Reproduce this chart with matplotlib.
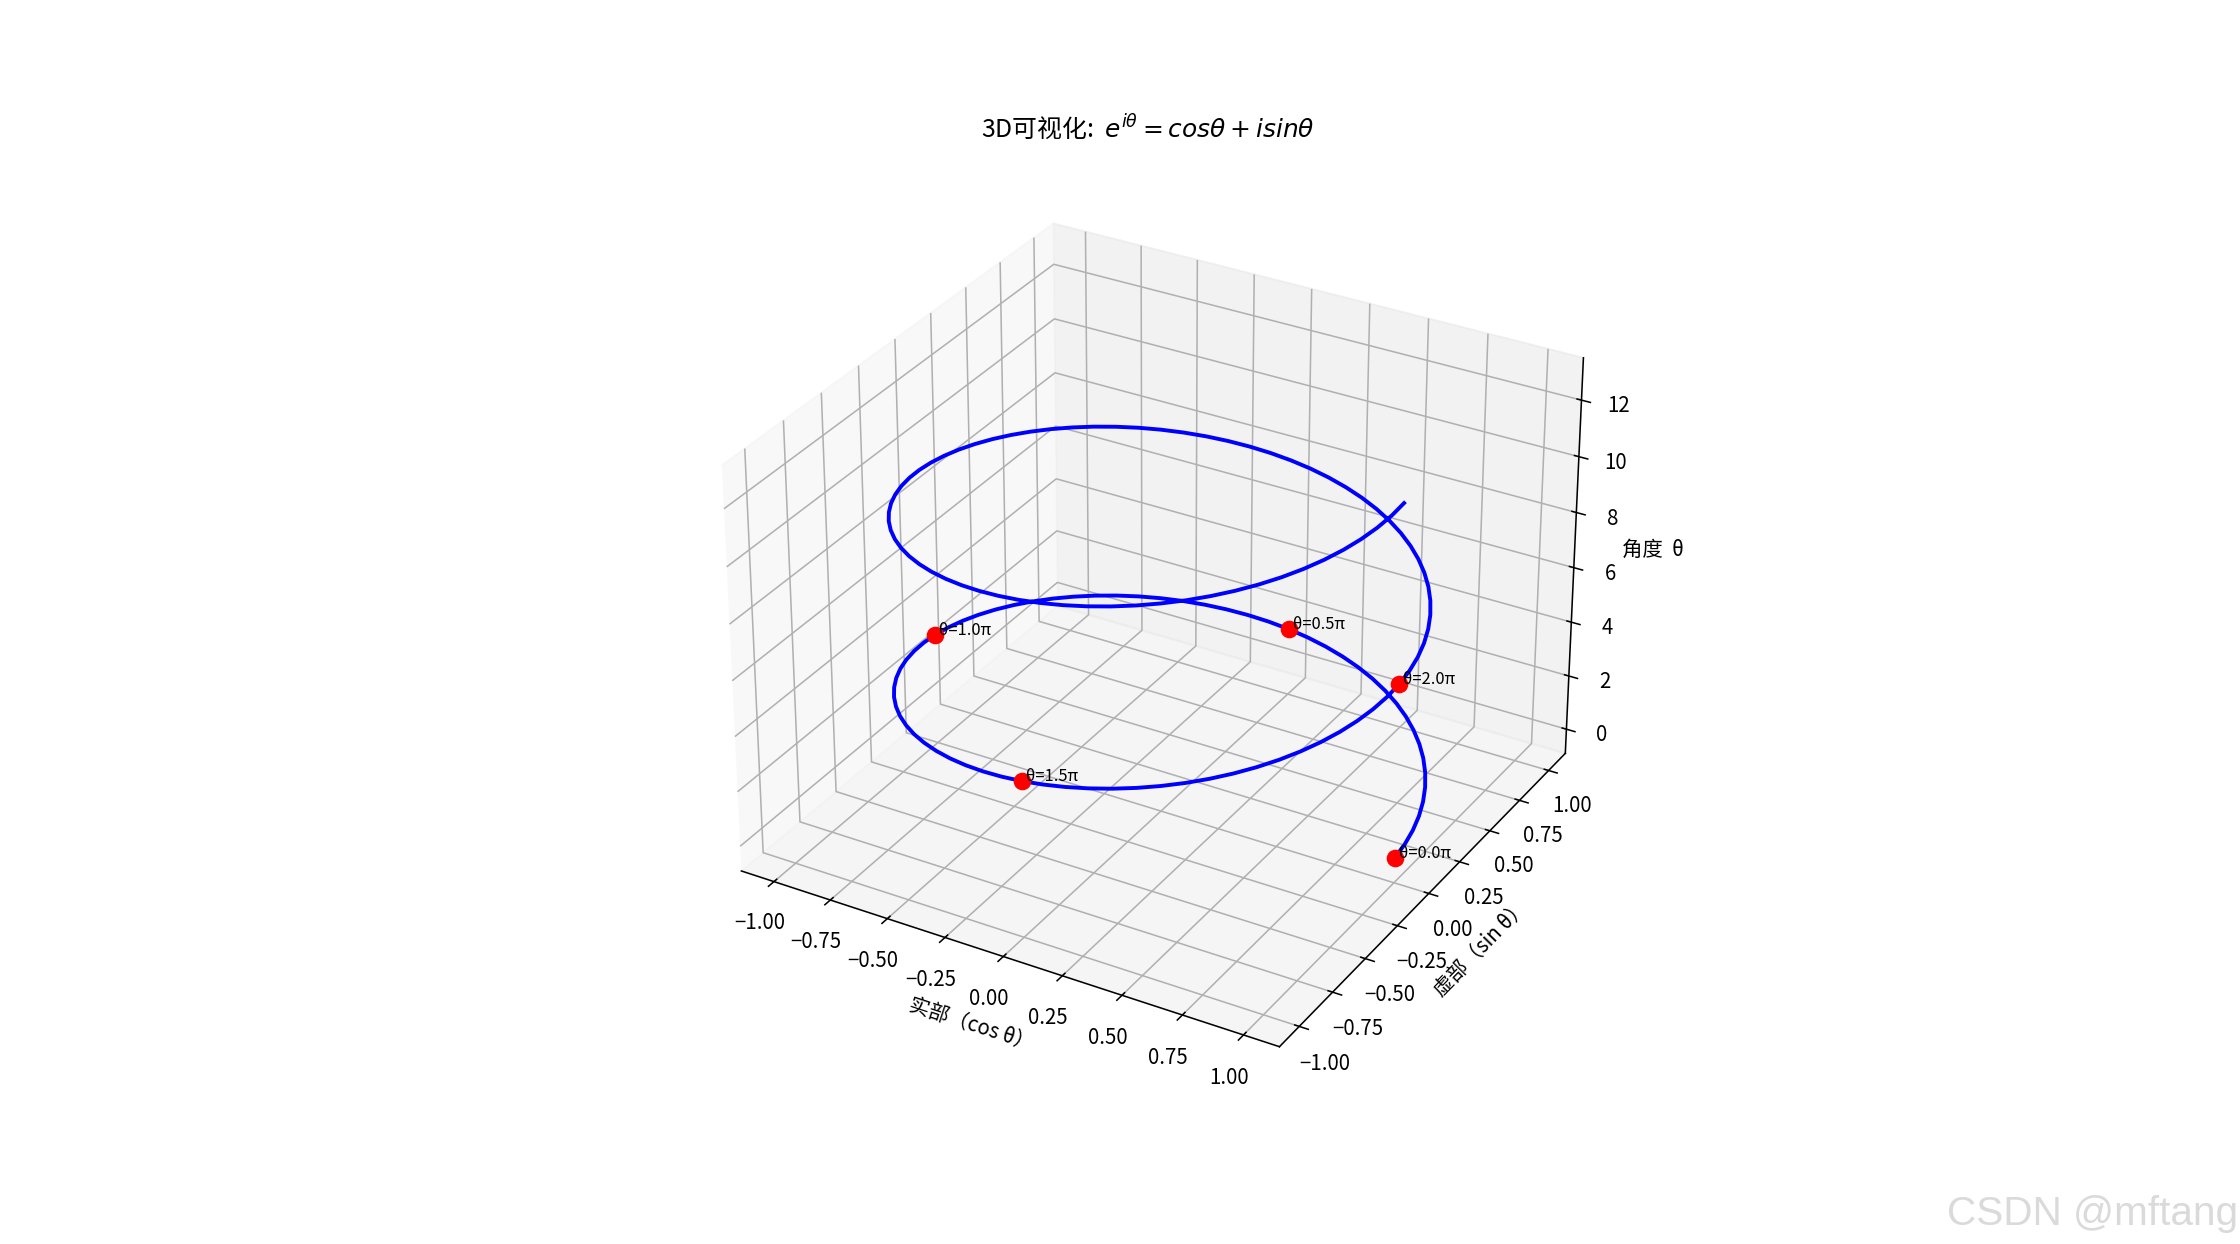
import matplotlib
matplotlib.use("Agg")
import matplotlib.pyplot as plt

plt.rcParams['font.family'] = ['Liberation Sans Narrow', 'Noto Sans CJK SC', 'DejaVu Sans']

# helix, sampled every 5 degrees over two turns
real_part = [1, .9962, .9848, .9659, .9397, .9063, .8660, .8192, .7660, .7071, .6428, .5736, .5, .4226, .3420, .2588, .1736, .0872,
             0, -.0872, -.1736, -.2588, -.3420, -.4226, -.5, -.5736, -.6428, -.7071, -.7660, -.8192, -.8660, -.9063, -.9397, -.9659, -.9848, -.9962,
             -1, -.9962, -.9848, -.9659, -.9397, -.9063, -.8660, -.8192, -.7660, -.7071, -.6428, -.5736, -.5, -.4226, -.3420, -.2588, -.1736, -.0872,
             0, .0872, .1736, .2588, .3420, .4226, .5, .5736, .6428, .7071, .7660, .8192, .8660, .9063, .9397, .9659, .9848, .9962,
             1, .9962, .9848, .9659, .9397, .9063, .8660, .8192, .7660, .7071, .6428, .5736, .5, .4226, .3420, .2588, .1736, .0872,
             0, -.0872, -.1736, -.2588, -.3420, -.4226, -.5, -.5736, -.6428, -.7071, -.7660, -.8192, -.8660, -.9063, -.9397, -.9659, -.9848, -.9962,
             -1, -.9962, -.9848, -.9659, -.9397, -.9063, -.8660, -.8192, -.7660, -.7071, -.6428, -.5736, -.5, -.4226, -.3420, -.2588, -.1736, -.0872,
             0, .0872, .1736, .2588, .3420, .4226, .5, .5736, .6428, .7071, .7660, .8192, .8660, .9063, .9397, .9659, .9848, .9962,
             1]
imag_part = [0, .0872, .1736, .2588, .3420, .4226, .5, .5736, .6428, .7071, .7660, .8192, .8660, .9063, .9397, .9659, .9848, .9962,
             1, .9962, .9848, .9659, .9397, .9063, .8660, .8192, .7660, .7071, .6428, .5736, .5, .4226, .3420, .2588, .1736, .0872,
             0, -.0872, -.1736, -.2588, -.3420, -.4226, -.5, -.5736, -.6428, -.7071, -.7660, -.8192, -.8660, -.9063, -.9397, -.9659, -.9848, -.9962,
             -1, -.9962, -.9848, -.9659, -.9397, -.9063, -.8660, -.8192, -.7660, -.7071, -.6428, -.5736, -.5, -.4226, -.3420, -.2588, -.1736, -.0872,
             0, .0872, .1736, .2588, .3420, .4226, .5, .5736, .6428, .7071, .7660, .8192, .8660, .9063, .9397, .9659, .9848, .9962,
             1, .9962, .9848, .9659, .9397, .9063, .8660, .8192, .7660, .7071, .6428, .5736, .5, .4226, .3420, .2588, .1736, .0872,
             0, -.0872, -.1736, -.2588, -.3420, -.4226, -.5, -.5736, -.6428, -.7071, -.7660, -.8192, -.8660, -.9063, -.9397, -.9659, -.9848, -.9962,
             -1, -.9962, -.9848, -.9659, -.9397, -.9063, -.8660, -.8192, -.7660, -.7071, -.6428, -.5736, -.5, -.4226, -.3420, -.2588, -.1736, -.0872,
             0]
angle = [0, .0873, .1745, .2618, .3491, .4363, .5236, .6109, .6981, .7854, .8727, .9599, 1.0472, 1.1345, 1.2217, 1.3090, 1.3963, 1.4835,
         1.5708, 1.6581, 1.7453, 1.8326, 1.9199, 2.0071, 2.0944, 2.1817, 2.2689, 2.3562, 2.4435, 2.5307, 2.6180, 2.7053, 2.7925, 2.8798, 2.9671, 3.0543,
         3.1416, 3.2289, 3.3161, 3.4034, 3.4907, 3.5779, 3.6652, 3.7525, 3.8397, 3.9270, 4.0143, 4.1015, 4.1888, 4.2761, 4.3633, 4.4506, 4.5379, 4.6251,
         4.7124, 4.7997, 4.8869, 4.9742, 5.0615, 5.1487, 5.2360, 5.3233, 5.4105, 5.4978, 5.5851, 5.6723, 5.7596, 5.8469, 5.9341, 6.0214, 6.1087, 6.1959,
         6.2832, 6.3705, 6.4577, 6.5450, 6.6323, 6.7195, 6.8068, 6.8941, 6.9813, 7.0686, 7.1558, 7.2431, 7.3304, 7.4176, 7.5049, 7.5922, 7.6794, 7.7667,
         7.8540, 7.9412, 8.0285, 8.1158, 8.2030, 8.2903, 8.3776, 8.4648, 8.5521, 8.6394, 8.7266, 8.8139, 8.9012, 8.9884, 9.0757, 9.1630, 9.2502, 9.3375,
         9.4248, 9.5120, 9.5993, 9.6866, 9.7738, 9.8611, 9.9484, 10.0356, 10.1229, 10.2102, 10.2974, 10.3847, 10.4720, 10.5592, 10.6465, 10.7338, 10.8210, 10.9083,
         10.9956, 11.0828, 11.1701, 11.2574, 11.3446, 11.4319, 11.5192, 11.6064, 11.6937, 11.7810, 11.8682, 11.9555, 12.0428, 12.1300, 12.2173, 12.3046, 12.3918, 12.4791,
         12.5664]

# marked points
point_x = [1, 0, -1, 0, 1]
point_y = [0, 1, 0, -1, 0]
point_z = [0, 1.5708, 3.1416, 4.7124, 6.2832]
point_labels = ['θ=0.0π', 'θ=0.5π', 'θ=1.0π', 'θ=1.5π', 'θ=2.0π']

fig = plt.figure(figsize=(16, 8.886), dpi=140)
ax = fig.add_subplot(111, projection='3d')

ax.plot(real_part, imag_part, angle, color='b', linewidth=2)
ax.scatter(point_x, point_y, point_z, color='r', s=65, depthshade=False)
for i in range(len(point_labels)):
    ax.text(point_x[i], point_y[i], point_z[i], ' ' + point_labels[i], fontsize=8.5,
            family=['Noto Sans CJK SC', 'DejaVu Sans'])

ax.tick_params(labelsize=10.5)
ax.zaxis.set_rotate_label(False)
ax.set_xlabel('实部（cos θ）', fontsize=10.5)
ax.set_ylabel('虚部（sin θ）', fontsize=10.5)
ax.set_zlabel('角度  θ', fontsize=10.5, rotation=0)
ax.set_title(r'3D可视化:  $e^{i\theta} = cos\theta + isin\theta$', fontsize=12.8)

fig.text(0.999, 0.0153, 'CSDN @mftang', color='#dadada', fontsize=20.8,
         ha='right', va='baseline', family='Liberation Sans')

fig.savefig('out.png')
